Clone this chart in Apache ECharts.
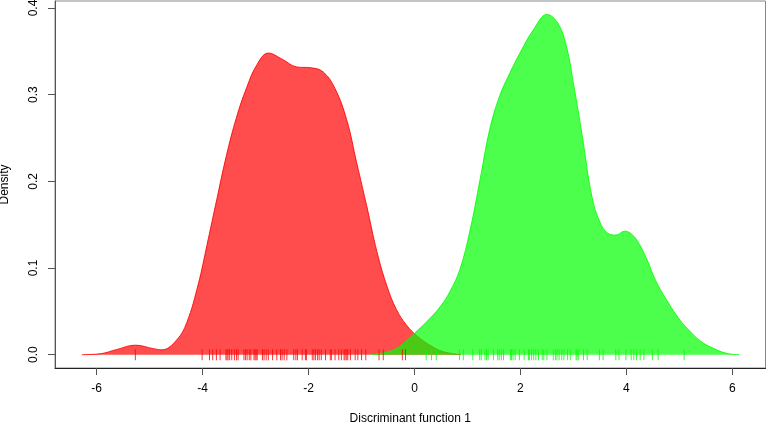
<!DOCTYPE html>
<html>
<head>
<meta charset="utf-8">
<script src="https://cdn.jsdelivr.net/npm/echarts@6/dist/echarts.min.js"></script>
<style>
html,body{margin:0;padding:0;background:#fff;}
#c{width:767px;height:423px;}
</style>
</head>
<body>
<div id="c"></div>
<script>
// Density of discriminant function 1, group 1 (red)
const redDensity = [
  [-6.28, 0], [-5.94, 0.001], [-5.62, 0.006], [-5.27, 0.011], [-4.93, 0.007],
  [-4.77, 0.0056], [-4.49, 0.017], [-4.30, 0.037], [-4.08, 0.082], [-3.92, 0.126],
  [-3.73, 0.180], [-3.55, 0.230], [-3.36, 0.274], [-3.17, 0.308], [-2.98, 0.334],
  [-2.76, 0.348], [-2.5, 0.341], [-2.22, 0.332], [-1.95, 0.331], [-1.72, 0.326],
  [-1.50, 0.307], [-1.28, 0.271], [-1.09, 0.221], [-0.90, 0.171], [-0.71, 0.119],
  [-0.52, 0.079], [-0.34, 0.052], [-0.15, 0.034], [0.04, 0.022], [0.29, 0.011],
  [0.54, 0.0035], [0.88, 0]
];
// Density of discriminant function 1, group 2 (green)
const greenDensity = [
  [-0.81, 0], [-0.6, 0.002], [-0.4, 0.0054], [-0.21, 0.013], [0.0, 0.0247],
  [0.23, 0.038], [0.48, 0.055], [0.67, 0.073], [0.86, 0.099], [1.05, 0.144],
  [1.24, 0.203], [1.42, 0.260], [1.61, 0.299], [1.80, 0.325], [1.99, 0.348],
  [2.24, 0.3745], [2.50, 0.3926], [2.71, 0.382], [2.87, 0.355], [3.00, 0.313],
  [3.16, 0.255], [3.35, 0.182], [3.5, 0.153], [3.65, 0.140], [3.8, 0.138],
  [3.97, 0.1425], [4.1, 0.139], [4.25, 0.127], [4.4, 0.108], [4.55, 0.086],
  [4.76, 0.063], [5.01, 0.040], [5.2, 0.027], [5.39, 0.016], [5.64, 0.0074],
  [5.89, 0.0016], [6.13, 0]
];
// Rug (individual observations)
const redRug = [
  -5.27, -4.01, -3.87, -3.81, -3.74, -3.67, -3.56, -3.54, -3.52, -3.49, -3.45,
  -3.40, -3.36, -3.33, -3.22, -3.19, -3.16, -3.12, -3.09, -3.03, -3.01, -2.99,
  -2.97, -2.87, -2.84, -2.80, -2.76, -2.68, -2.60, -2.53, -2.50, -2.46, -2.41,
  -2.28, -2.24, -2.21, -2.12, -2.06, -2.04, -1.93, -1.90, -1.87, -1.83, -1.80,
  -1.76, -1.68, -1.59, -1.57, -1.50, -1.43, -1.38, -1.33, -1.31, -1.28, -1.26,
  -1.21, -1.12, -1.07, -1.00, -0.92, -0.67, -0.59, -0.23, -0.17
];
const greenRug = [
  0.22, 0.32, 0.41, 0.85, 0.92, 1.10, 1.23, 1.26, 1.33, 1.36, 1.39, 1.49, 1.57,
  1.60, 1.64, 1.68, 1.81, 1.83, 1.86, 1.90, 1.98, 2.07, 2.15, 2.17, 2.21, 2.25,
  2.29, 2.34, 2.41, 2.44, 2.50, 2.62, 2.66, 2.69, 2.73, 2.78, 2.82, 2.89, 2.94,
  3.05, 3.07, 3.10, 3.19, 3.26, 3.49, 3.56, 3.80, 3.86, 3.99, 4.09, 4.14, 4.19,
  4.26, 4.33, 4.49, 4.60, 5.09
];
const xTicks = [-6, -4, -2, 0, 2, 4, 6];
const yTicks = [0, 0.1, 0.2, 0.3, 0.4];
const xTitle = 'Discriminant function 1';
const yTitle = 'Density';

const FONT = 'Liberation Sans, Arial, Helvetica, sans-serif';
const chart = echarts.init(document.getElementById('c'), null, {renderer: 'canvas'});
chart.setOption({
  animation: false,
  backgroundColor: '#ffffff',
  grid: {left: 55, right: 1.5, top: 1, bottom: 55, containLabel: false, outerBoundsMode: 'none',
    show: true, borderColor: '#888', borderWidth: 1, backgroundColor: 'transparent'},
  xAxis: {
    type: 'value', min: -6.787, max: 6.626,
    splitLine: {show: false},
    axisLine: {show: true, onZero: false, lineStyle: {color: '#222', width: 1}},
    axisTick: {show: true, customValues: xTicks, length: 7, lineStyle: {color: '#555'}},
    axisLabel: {customValues: xTicks, margin: 15, color: '#000', fontSize: 12, fontFamily: FONT,
      formatter: v => String(v)},
    name: xTitle, nameLocation: 'middle', nameGap: 45,
    nameTextStyle: {color: '#000', fontSize: 12, fontFamily: FONT}
  },
  yAxis: {
    type: 'value', min: -0.01535, max: 0.4081,
    splitLine: {show: false},
    axisLine: {show: true, onZero: false, lineStyle: {color: '#555', width: 1}},
    axisTick: {show: true, customValues: yTicks, length: 7, lineStyle: {color: '#555'}},
    axisLabel: {customValues: yTicks, rotate: 90, margin: 15, color: '#000', fontSize: 12, fontFamily: FONT,
      formatter: v => v.toFixed(1)},
    name: yTitle, nameLocation: 'middle', nameGap: 44, nameRotate: 90,
    nameTextStyle: {color: '#000', fontSize: 12, fontFamily: FONT}
  },
  series: [
    {
      type: 'line', data: redDensity, smooth: 0.4, showSymbol: false, silent: true,
      lineStyle: {color: 'rgba(255,0,0,0.85)', width: 1},
      areaStyle: {color: 'rgba(255,0,0,0.7)', opacity: 1}, z: 2
    },
    {
      type: 'line', data: greenDensity, smooth: 0.4, showSymbol: false, silent: true,
      lineStyle: {color: 'rgba(0,255,0,0.85)', width: 1},
      areaStyle: {color: 'rgba(0,255,0,0.7)', opacity: 1}, z: 3
    },
    {
      type: 'scatter', data: redRug.map(v => [v, 0]), symbol: 'rect', symbolSize: [1, 11],
      itemStyle: {color: '#ff0000'}, silent: true, z: 4
    },
    {
      type: 'scatter', data: greenRug.map(v => [v, 0]), symbol: 'rect', symbolSize: [1, 11],
      itemStyle: {color: '#00ff00'}, silent: true, z: 4
    }
  ]
});
</script>
</body>
</html>
